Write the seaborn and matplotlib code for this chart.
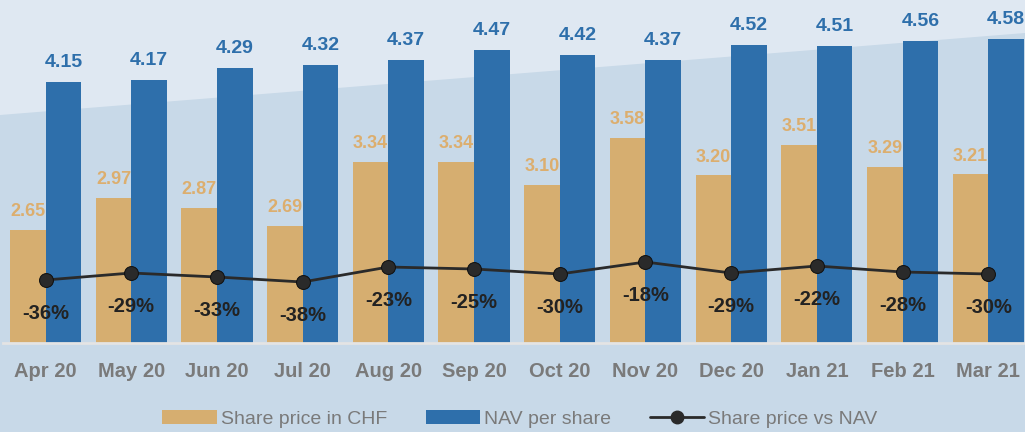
import pandas as pd
import seaborn as sns
import matplotlib.pyplot as plt
import numpy as np
from matplotlib.patches import Polygon, Patch
from matplotlib.lines import Line2D

months = ['Apr 20', 'May 20', 'Jun 20', 'Jul 20', 'Aug 20', 'Sep 20',
          'Oct 20', 'Nov 20', 'Dec 20', 'Jan 21', 'Feb 21', 'Mar 21']
share_price = [2.65, 2.97, 2.87, 2.69, 3.34, 3.34, 3.10, 3.58, 3.20, 3.51, 3.29, 3.21]
nav = [4.15, 4.17, 4.29, 4.32, 4.37, 4.47, 4.42, 4.37, 4.52, 4.51, 4.56, 4.58]
discount = [-36, -29, -33, -38, -23, -25, -30, -18, -29, -22, -28, -30]
series_names = ['Share price in CHF', 'NAV per share', 'Share price vs NAV']

tan = '#d6ae70'
blue = '#2e6fab'
dark = '#2a2a2a'
grey = '#7a7a7a'

df = pd.DataFrame({
    'month': months * 2,
    'value': share_price + nav,
    'series': [series_names[0]] * 12 + [series_names[1]] * 12,
})

sns.set_style('white')
plt.rcParams['font.family'] = ['Liberation Sans', 'DejaVu Sans']

fig = plt.figure(figsize=(10.25, 4.32), dpi=100, facecolor='#c8d9e8')
# lighter band across the top
fig.add_artist(Polygon([(0, 1), (1, 1), (1, 1 - 33 / 432), (0, 1 - 115 / 432)],
                       closed=True, transform=fig.transFigure,
                       facecolor='#dfe8f2', edgecolor='none', zorder=-1))

ax = fig.add_axes([2.7 / 1025, 1 - 343 / 432, 12 * 85.7 / 1025, 343 / 432])
ax.patch.set_visible(False)
sns.barplot(data=df, x='month', y='value', hue='series', palette=[tan, blue],
            width=0.83, gap=0, saturation=1, edgecolor='none', legend=False, ax=ax)
ax.set_xlim(-0.5, 11.5)
ax.set_ylim(1.5, 4.98)
ax.set_xlabel('')
ax.set_ylabel('')
ax.set_yticks([])
for s in ['top', 'left', 'right']:
    ax.spines[s].set_visible(False)
ax.spines['bottom'].set_color('#e4e4e4')
ax.spines['bottom'].set_linewidth(2)
ax.set_xticks(np.arange(12))
ax.set_xticklabels(months, fontsize=14.5, fontweight='bold', color=grey)
ax.tick_params(axis='x', length=0, pad=14)
ax.set_xticks(np.arange(-0.5, 12, 1), minor=True)
ax.tick_params(axis='x', which='minor', length=6, width=1.5, color='#e4e4e4', direction='out')

bw = 0.83 / 2
for i in range(12):
    ax.annotate(f'{share_price[i]:.2f}', (i - bw / 2, share_price[i]), xytext=(0, 10),
                textcoords='offset points', ha='center', va='baseline',
                fontsize=13, fontweight='bold', color='#dcae6e')
    ax.annotate(f'{nav[i]:.2f}', (i + bw / 2, nav[i]), xytext=(0, 11),
                textcoords='offset points', ha='center', va='baseline',
                fontsize=14, fontweight='bold', color=blue)

ax2 = ax.twinx()
sns.lineplot(x=np.arange(12), y=discount, ax=ax2, color=dark, linewidth=2,
             marker='o', markersize=10, markerfacecolor=dark, markeredgecolor='#111111')
ax2.set_ylim(-99, 244)
ax2.set_xlim(-0.5, 11.5)
ax2.axis('off')
for i in range(12):
    ax2.annotate(f'{discount[i]}%', (i, discount[i]), xytext=(0, -24),
                 textcoords='offset points', ha='center', va='center',
                 fontsize=14.5, fontweight='bold', color='#222222')

handles = [Patch(facecolor=tan, edgecolor='none'),
           Patch(facecolor=blue, edgecolor='none'),
           Line2D([], [], color=dark, linewidth=2, marker='o', markersize=9,
                  markerfacecolor=dark)]
leg = fig.legend(handles, series_names, loc='center', bbox_to_anchor=(520 / 1025, 13 / 432),
                 ncol=3, frameon=False, handlelength=2.8, handletextpad=0.2,
                 columnspacing=2.0, prop={'size': 14})
for t in leg.get_texts():
    t.set_color(grey)

fig.savefig('out.png', dpi=100, facecolor=fig.get_facecolor())
